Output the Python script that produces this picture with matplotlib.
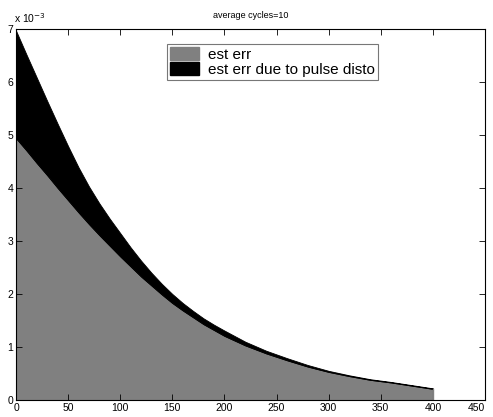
import numpy as np
import matplotlib.pyplot as plt
from matplotlib.patches import Patch

plt.rcParams['font.family'] = ['Liberation Sans', 'DejaVu Sans']

# samples of the averaged estimate (units of 1e-3)
n_samples = [0, 10, 20, 30, 40, 50, 60, 70, 80, 90, 100,
             110, 120, 130, 140, 150, 160, 170, 180, 190, 200,
             220, 240, 260, 280, 300, 320, 340, 360, 380, 400]
est_err = [4.94, 4.71, 4.47, 4.24, 4.00, 3.77, 3.54, 3.32, 3.11, 2.91, 2.71,
           2.52, 2.33, 2.16, 1.99, 1.83, 1.69, 1.56, 1.43, 1.32, 1.21,
           1.03, 0.88, 0.75, 0.63, 0.53, 0.45, 0.38, 0.33, 0.27, 0.21]
pulse_err = [2.03, 1.81, 1.61, 1.40, 1.21, 1.02, 0.85, 0.71, 0.60, 0.51, 0.44,
             0.36, 0.30, 0.24, 0.20, 0.17, 0.14, 0.12, 0.11, 0.10, 0.10,
             0.07, 0.05, 0.04, 0.03, 0.02, 0.015, 0.012, 0.01, 0.01, 0.01]
legend_labels = ['est err', 'est err due to pulse disto']
scale = 1e-3

x = np.array(n_samples)
y1 = np.array(est_err) * scale
y2 = np.array(pulse_err) * scale

fig = plt.figure(figsize=(4.93, 4.17), dpi=100)
ax = fig.add_axes([16 / 493, 17 / 417, 469 / 493, 371 / 417])

# stacked area, matlab style
ax.fill_between(x, 0, y1, facecolor='#808080', edgecolor='black', linewidth=0.6)
ax.fill_between(x, y1, y1 + y2, facecolor='black', edgecolor='black', linewidth=0.6)
ax.plot([x[-1], x[-1]], [0, y1[-1]], color='#808080', lw=1)

ax.set_xlim(0, 450)
ax.set_ylim(0, 7e-3)
ax.set_xticks(np.arange(0, 451, 50))
ax.set_yticks(np.arange(0, 8) * scale)
ax.set_yticklabels([str(i) for i in range(8)])
ax.tick_params(direction='in', length=4, width=0.6, labelsize=7.5,
               top=True, right=True, pad=2, colors='black')
for s in ax.spines.values():
    s.set_linewidth(0.8)
# keep the last x label inside the figure
ax.get_xticklabels()[-1].set_horizontalalignment('right')
ax.get_xticklabels()[-1].set_x(450)

ax.text(-0.005, 1.012, r'x 10$^{-3}$', transform=ax.transAxes,
        fontsize=7.5, ha='left', va='bottom')
ax.set_title('average cycles=10', fontsize=6.5, pad=8)

handles = [Patch(facecolor='#808080', edgecolor='#808080'),
           Patch(facecolor='black', edgecolor='black')]
leg = ax.legend(handles, legend_labels, loc='upper left',
                bbox_to_anchor=(0.322, 0.96), fontsize=11, frameon=True,
                fancybox=False, handlelength=1.9, handleheight=0.9,
                handletextpad=0.6, borderpad=0.2, labelspacing=0.05,
                borderaxespad=0)
leg.get_frame().set_edgecolor('#555555')
leg.get_frame().set_linewidth(0.8)

fig.savefig('out.png', dpi=100)
